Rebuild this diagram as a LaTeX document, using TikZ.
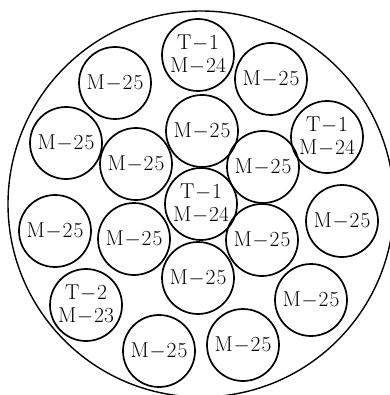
\documentclass[tikz,border=0pt]{standalone}
\newcommand{\lab}[2]{#1\kern0.8pt$-$\kern0.8pt#2}
\newcommand{\mtf}{\lab{M}{2\kern1.2pt5}}
\begin{document}
\begin{tikzpicture}[x=1pt,y=-1pt,
  wire/.style={circle,draw,line width=1.7pt,minimum size=72pt,inner sep=0pt,
    align=center,font=\fontsize{21.5}{23}\selectfont}]
\useasboundingbox (0,0) rectangle (389,395);
\draw[line width=1.4pt] (201,204) circle[radius=193pt];
\node[wire] (c1) at (198,55) {\lab{T}{1}\\\lab{M}{24}};
\node[wire] (c2) at (115,83) {\mtf};
\node[wire] (c3) at (271,79) {\mtf};
\node[wire] (c4) at (66,143) {\mtf};
\node[wire] (c5) at (202,131) {\mtf};
\node[wire] (c6) at (327,137) {\lab{T}{1}\\\lab{M}{24}};
\node[wire] (c7) at (136,164) {\mtf};
\node[wire] (c8) at (263,167) {\mtf};
\node[wire] (c9) at (201,204) {\lab{T}{1}\\\lab{M}{24}};
\node[wire] (c10) at (55,231) {\mtf};
\node[wire] (c11) at (134,239) {\mtf};
\node[wire] (c12) at (262,240) {\mtf};
\node[wire] (c13) at (342,221) {\mtf};
\node[wire] (c14) at (198,278) {\mtf};
\node[wire] (c15) at (86,305) {\lab{T}{2}\\\lab{M}{23}};
\node[wire] (c16) at (311,300) {\mtf};
\node[wire] (c17) at (159,351) {\mtf};
\node[wire] (c18) at (243,345) {\mtf};
\end{tikzpicture}
\end{document}
